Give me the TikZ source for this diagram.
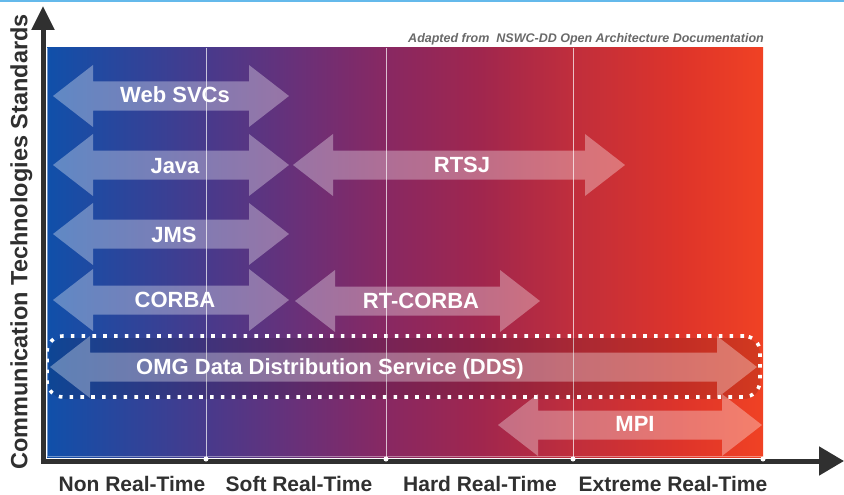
\documentclass[tikz,border=0pt]{standalone}
\usepackage{fontspec}
\setmainfont{Liberation Sans}
\usetikzlibrary{arrows.meta}
\definecolor{g0}{RGB}{16,80,170}
\definecolor{g1}{RGB}{72,58,140}
\definecolor{g2}{RGB}{106,48,120}
\definecolor{g3}{RGB}{136,40,98}
\definecolor{g4}{RGB}{160,38,78}
\definecolor{g5}{RGB}{192,46,60}
\definecolor{g6}{RGB}{222,52,42}
\definecolor{g7}{RGB}{240,66,36}
\definecolor{axisgray}{RGB}{48,48,48}
\definecolor{creditgray}{RGB}{105,105,105}
\definecolor{topblue}{RGB}{100,185,235}
\pgfdeclarehorizontalshading{bggrad}{100bp}{color(0bp)=(g0); color(25bp)=(g0); color(36.1bp)=(g1); color(42.67bp)=(g2); color(48.67bp)=(g3); color(55.24bp)=(g4); color(61.73bp)=(g5); color(69.2bp)=(g6); color(75bp)=(g7); color(100bp)=(g7)}
\newcommand\tkarrow[3]{%
  \fill[arrowfill] (#1,#3) -- (#1+40,#3-31) -- (#1+40,#3-14.5) -- (#2-40,#3-14.5) -- (#2-40,#3-31) -- (#2,#3)
   -- (#2-40,#3+31) -- (#2-40,#3+14.5) -- (#1+40,#3+14.5) -- (#1+40,#3+31) -- cycle;}
\tikzset{
  arrowfill/.style={fill=white, fill opacity=0.33},
  lbl/.style={text=white, font=\fontsize{22}{24}\selectfont\bfseries, inner sep=0pt, text height=15.8pt, text depth=0pt},
  axlbl/.style={text=axisgray, font=\fontsize{21}{24}\selectfont\bfseries, inner sep=0pt, text height=15pt, text depth=0pt},
  axisline/.style={draw=axisgray, line width=5pt},
  divider/.style={draw=white, draw opacity=0.7, line width=0.6pt},
  dotbox/.style={draw=white, line width=3.6pt, dash pattern=on 3.6pt off 7.2pt, rounded corners=16pt, inner sep=0pt},
  tickdot/.style={circle, fill=white, inner sep=0pt, minimum size=5pt}
}
\begin{document}
\begin{tikzpicture}[x=1pt, y=-1pt]
\useasboundingbox (0,0) rectangle (844,495);
\fill[white] (0,0) rectangle (844,495);
\fill[topblue] (0,0) rectangle (844,2);
% background gradient
\shade[shading=bggrad] (47,48) rectangle (763,457);
\draw[white, draw opacity=0.4, line width=0.8pt] (47.4,48) -- (47.4,456.6) -- (763,456.6);
% dividers
\draw[divider] (206,48) -- (206,457);
\draw[divider] (386,48) -- (386,457);
\draw[divider] (573,48) -- (573,457);
% shadow of DDS box
\fill[black, fill opacity=0.12, rounded corners=16pt] (49,338) rectangle (760,399);
% arrows
\tkarrow{53}{289}{96}
\tkarrow{53}{289}{165}
\tkarrow{293}{625}{165}
\tkarrow{53}{289}{234}
\tkarrow{53}{289}{300}
\tkarrow{295}{540}{301}
\tkarrow{50}{757}{367}
\tkarrow{498}{762}{425}
% labels
\node[lbl] (websvc) at (175,95) {Web SVCs};
\node[lbl] (java) at (175,166) {Java};
\node[lbl] (rtsj) at (462,165) {RTSJ};
\node[lbl] (jms) at (174,235) {JMS};
\node[lbl] (corba) at (175,300) {CORBA};
\node[lbl] (rtcorba) at (421,301) {RT-CORBA};
\node[lbl] (dds) at (330,367) {OMG Data Distribution Service (DDS)};
\node[lbl] (mpi) at (635,424) {MPI};
% dotted box
\node[dotbox, minimum width=713pt, minimum height=61pt] (ddsbox) at (403.5,366.5) {};
% axes
\coordinate (origin) at (43,461);
\coordinate (ytip) at (43,6);
\coordinate (xtip) at (844,461);
\draw[axisline, -{Triangle[length=24pt, width=22pt]}] (43,463.5) -- (ytip);
\draw[axisline, -{Triangle[length=25pt, width=28pt]}] (40.5,461) -- (xtip);
\node[tickdot] (t1) at (206,459) {};
\node[tickdot] (t2) at (386,459) {};
\node[tickdot] (t3) at (573,459) {};
\node[tickdot] (t4) at (763,459) {};
% axis labels
\node[axlbl] (nrt) at (132,484) {Non Real-Time};
\node[axlbl] (srt) at (299,484) {Soft Real-Time};
\node[axlbl] (hrt) at (480,484) {Hard Real-Time};
\node[axlbl] (ert) at (673,484) {Extreme Real-Time};
\node[text=axisgray, font=\fontsize{23.5}{25}\selectfont\bfseries, inner sep=0pt, text height=16.8pt, text depth=0pt, rotate=90] (ylabel) at (19,242) {Communication Technologies Standards};
\node[text=creditgray, font=\fontsize{12.5}{14}\selectfont\bfseries\itshape, inner sep=0pt, text height=9pt, text depth=0pt, anchor=east] (credit) at (764,38) {Adapted from\ \ NSWC-DD Open Architecture Documentation};
\end{tikzpicture}
\end{document}
